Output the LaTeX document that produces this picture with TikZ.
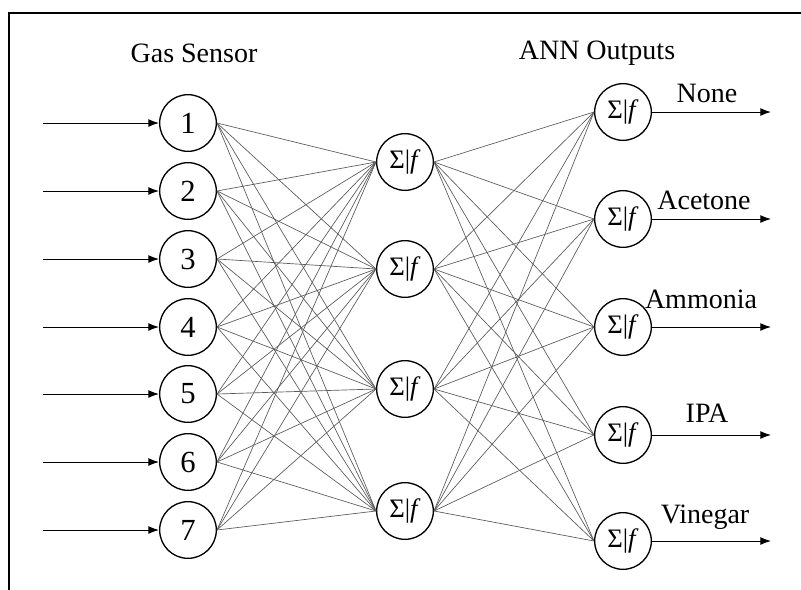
\documentclass[tikz,border=0pt]{standalone}
\usepackage{fontspec}
\setmainfont{Liberation Serif}
\usepackage{tikz}
\usetikzlibrary{arrows.meta}

\newcommand{\sumf}{Σ|\textit{f}}

\begin{document}
\begin{tikzpicture}[x=0.75pt, y=-0.75pt,
    neuron/.style={circle, draw, line width=1pt, minimum size=42.5pt, inner sep=0pt, font=\fontsize{23}{23}\selectfont},
    unit/.style={neuron, font=\fontsize{20}{20}\selectfont},
    wire/.style={draw=black!65, line width=0.5pt},
    signal/.style={-{Latex[length=8pt,width=6pt]}, line width=0.75pt},
    lbl/.style={font=\fontsize{21}{21}\selectfont}]
\useasboundingbox (0,0) rectangle (801,590);
\draw[line width=1.6pt] (9,590) -- (9,13) -- (801,13);

% titles
\node[lbl] (gas) at (194,53) {Gas Sensor};
\node[lbl] (ann) at (597,53) {ANN Outputs};

% input layer
\node[neuron] (i1) at (188,123) {1};
\node[neuron] (i2) at (188,191) {2};
\node[neuron] (i3) at (188,259) {3};
\node[neuron] (i4) at (188,327) {4};
\node[neuron] (i5) at (188,394) {5};
\node[neuron] (i6) at (188,462) {6};
\node[neuron] (i7) at (188,530) {7};

% hidden layer
\node[unit] (h1) at (405,162) {\sumf};
\node[unit] (h2) at (405,269) {\sumf};
\node[unit] (h3) at (405,389) {\sumf};
\node[unit] (h4) at (405,511) {\sumf};

% output layer
\node[unit] (o1) at (623,112) {\sumf};
\node[unit] (o2) at (623,219) {\sumf};
\node[unit] (o3) at (623,327) {\sumf};
\node[unit] (o4) at (623,435) {\sumf};
\node[unit] (o5) at (623,541) {\sumf};

% connections
\foreach \i in {1,...,7}
  \foreach \h in {1,...,4}
    \draw[wire] (i\i.east) -- (h\h.west);
\foreach \h in {1,...,4}
  \foreach \o in {1,...,5}
    \draw[wire] (h\h.east) -- (o\o.west);

% inputs
\foreach \i/\y in {1/123,2/191,3/259,4/327,5/394,6/462,7/530}{
  \coordinate (x\i) at (43,\y);
  \draw[signal] (x\i) -- (i\i.west);
}

% outputs
\foreach \o/\y in {1/112,2/219,3/327,4/435,5/541}{
  \coordinate (y\o) at (771,\y);
  \draw[signal] (o\o.east) -- (y\o);
}
\node[lbl] (l1) at (707,93) {None};
\node[lbl] (l2) at (704,200) {Acetone};
\node[lbl] (l3) at (701,299) {Ammonia};
\node[lbl] (l4) at (707,413) {IPA};
\node[lbl] (l5) at (705,517) {Vinegar};
\end{tikzpicture}
\end{document}
